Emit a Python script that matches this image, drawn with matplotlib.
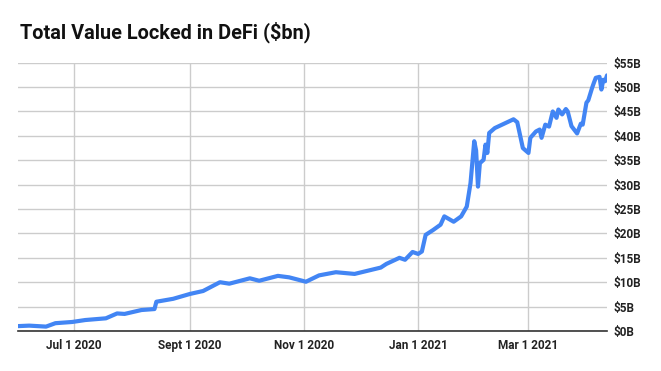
import matplotlib
matplotlib.use("Agg")
import matplotlib.pyplot as plt
import matplotlib.dates as mdates
import numpy as np
import pandas as pd

dates = ["2020-06-01", "2020-06-07", "2020-06-16", "2020-06-21", "2020-06-30", "2020-07-07",
         "2020-07-18", "2020-07-24", "2020-07-28", "2020-08-06", "2020-08-13", "2020-08-14",
         "2020-08-23", "2020-09-01", "2020-09-08", "2020-09-17", "2020-09-22", "2020-10-03",
         "2020-10-08", "2020-10-18", "2020-10-24", "2020-11-02", "2020-11-09", "2020-11-18",
         "2020-11-28", "2020-12-12", "2020-12-15", "2020-12-22", "2020-12-25", "2020-12-29",
         "2021-01-01", "2021-01-03", "2021-01-05", "2021-01-09", "2021-01-13", "2021-01-15",
         "2021-01-20", "2021-01-24", "2021-01-27", "2021-01-29", "2021-01-31", "2021-02-01",
         "2021-02-02", "2021-02-03", "2021-02-05", "2021-02-06", "2021-02-07", "2021-02-08",
         "2021-02-11", "2021-02-21", "2021-02-23", "2021-02-26", "2021-03-01", "2021-03-02",
         "2021-03-05", "2021-03-07", "2021-03-08", "2021-03-10", "2021-03-12", "2021-03-14",
         "2021-03-16", "2021-03-17", "2021-03-19", "2021-03-21", "2021-03-22", "2021-03-24",
         "2021-03-27", "2021-03-29", "2021-03-30", "2021-04-01", "2021-04-02", "2021-04-04",
         "2021-04-05", "2021-04-06", "2021-04-08", "2021-04-09", "2021-04-10", "2021-04-11",
         "2021-04-12"]
tvl = [1.0, 1.1, 0.9, 1.6, 1.85, 2.25,
       2.6, 3.6, 3.5, 4.3, 4.5, 6.0,
       6.6, 7.6, 8.2, 10.0, 9.7, 10.8,
       10.3, 11.3, 11.0, 10.1, 11.4, 12.05,
       11.7, 13.0, 13.75, 15.0, 14.6, 16.2,
       15.8, 16.3, 19.7, 20.7, 21.8, 23.5,
       22.4, 23.5, 25.5, 30.3, 38.9, 37.0,
       29.6, 34.4, 35.1, 38.2, 36.5, 40.6,
       41.6, 43.4, 42.8, 37.5, 36.5, 39.6,
       40.9, 41.3, 39.6, 42.3, 41.9, 45.0,
       43.7, 45.4, 44.4, 45.5, 45.0, 42.0,
       40.5, 42.5, 42.3, 46.8, 47.3, 49.8,
       50.9, 51.9, 52.1, 49.5, 51.5, 51.2,
       52.4]
xtick_dates = ["2020-07-01", "2020-09-01", "2020-11-01", "2021-01-01", "2021-03-01"]
xtick_labels = ["Jul 1 2020", "Sept 1 2020", "Nov 1 2020", "Jan 1 2021", "Mar 1 2021"]
yticks = list(range(0, 60, 5))
ytick_labels = [f"${v}B" for v in yticks]

plt.rcParams['font.family'] = ['Roboto', 'DejaVu Sans']

fig = plt.figure(figsize=(6.61, 3.71), dpi=100)
ax = fig.add_axes([18/661, 1-331/371, (607-18)/661, (331-62.7)/371])

x = pd.to_datetime(dates)
ax.plot(x, tvl, color="#4285F4", lw=3.0, solid_joinstyle="round", solid_capstyle="round", zorder=3)

ax.set_xlim(pd.Timestamp("2020-06-01"), pd.Timestamp("2021-04-12"))
ax.set_ylim(0, 55)
ax.set_xticks(pd.to_datetime(xtick_dates))
ax.set_xticklabels(xtick_labels, fontsize=8.5, fontweight="bold", color="#222222")
ax.set_yticks(yticks)
ax.set_yticklabels(ytick_labels, fontsize=8.5, fontweight="bold", color="#222222")
ax.yaxis.tick_right()
ax.tick_params(axis="both", length=0)
ax.tick_params(axis="y", pad=5)
ax.tick_params(axis="x", pad=6)
for lbl in ax.get_yticklabels():
    lbl.set_horizontalalignment("left")

ax.grid(True, color="#cccccc", lw=1)
ax.set_axisbelow(True)
for s in ["top", "left", "right"]:
    ax.spines[s].set_visible(False)
ax.spines["bottom"].set_color("#333333")
ax.spines["bottom"].set_linewidth(1.2)
ax.spines["bottom"].set_zorder(4)

fig.text(20/661, 1-32/371, "Total Value Locked in DeFi ($bn)", fontsize=14.3,
         fontweight="bold", va="center", ha="left", color="#111111")

fig.savefig("out.png", dpi=100, facecolor="white")
